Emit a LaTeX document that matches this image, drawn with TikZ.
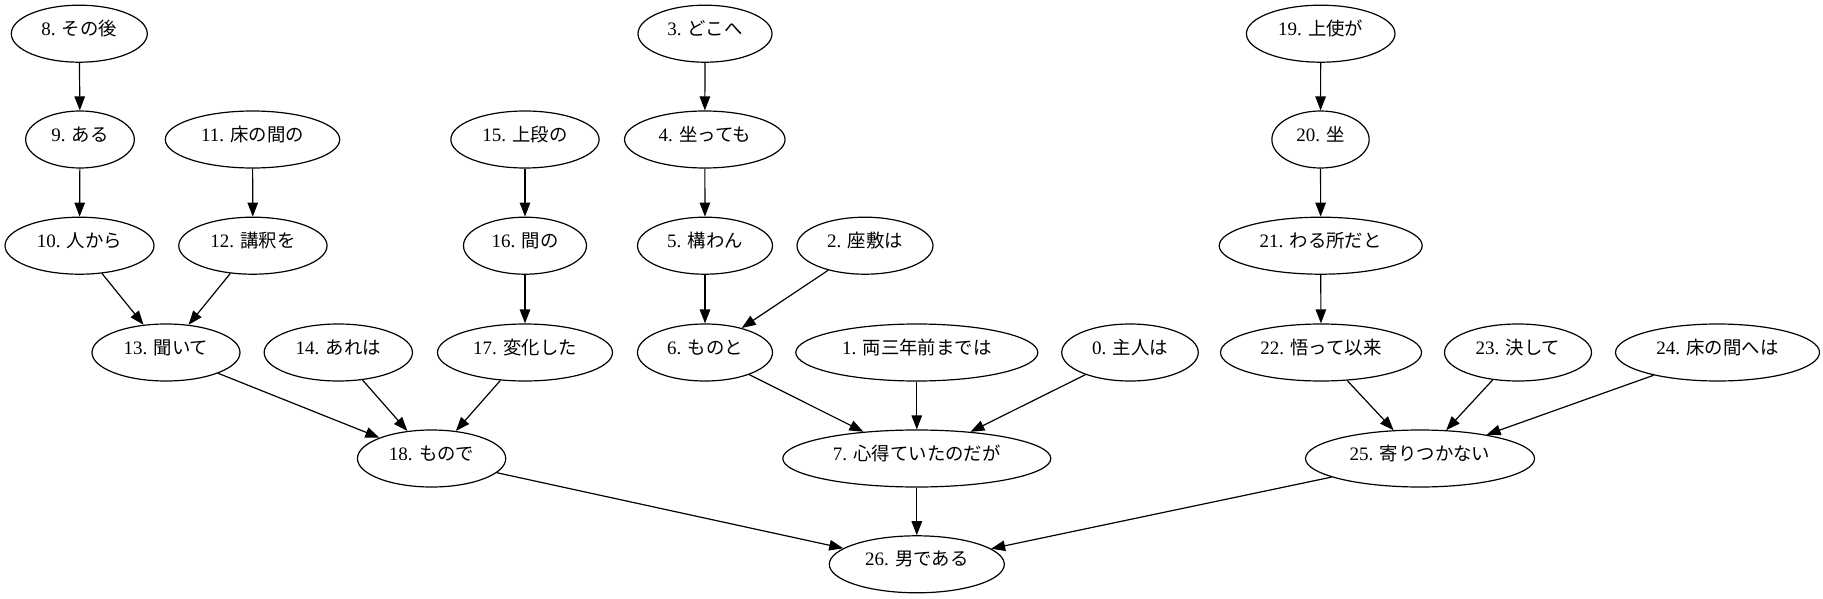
\documentclass[tikz,border=0pt]{standalone}
\usepackage{fontspec}
\setmainfont{Liberation Serif}
\newfontfamily\cjk{Noto Sans CJK JP}
\usetikzlibrary{shapes.geometric,arrows.meta}
\newcommand\J[1]{{\cjk\fontsize{18.4}{22}\selectfont #1}}
\tikzset{
  ell/.style={ellipse, draw, line width=1.2pt, minimum height=57pt, inner sep=0pt, minimum width=#1,
    font=\fontsize{19}{23}\selectfont},
  lbl/.style={yshift=5pt, inner sep=0pt, font=\fontsize{19}{23}\selectfont},
  edge/.style={line width=1.2pt, -{Triangle[length=14pt,width=10.5pt]}}
}
\begin{document}
\begin{tikzpicture}[x=1pt,y=-1pt]
\useasboundingbox (0,0) rectangle (1823,599);
\def\ra{33.7}\def\rb{139.5}\def\rc{245.7}\def\rd{352.5}\def\re{458.5}\def\rf{564.3}
% row 1
\node[ell=136, label={[lbl]center:8. \J{その後}}] (n8) at (79.3,\ra) {};
\node[ell=134, label={[lbl]center:3. \J{どこへ}}] (n3) at (705,\ra) {};
\node[ell=148.6, label={[lbl]center:19. \J{上使が}}] (n19) at (1320.7,\ra) {};
% row 2
\node[ell=108.7, label={[lbl]center:9. \J{ある}}] (n9) at (80,\rb) {};
\node[ell=174.4, label={[lbl]center:11. \J{床の間の}}] (n11) at (252.5,\rb) {};
\node[ell=148.3, label={[lbl]center:15. \J{上段の}}] (n15) at (525,\rb) {};
\node[ell=160.5, label={[lbl]center:4. \J{坐っても}}] (n4) at (704.8,\rb) {};
\node[ell=97.3, label={[lbl]center:20. \J{坐}}] (n20) at (1320.5,\rb) {};
% row 3
\node[ell=149, label={[lbl]center:10. \J{人から}}] (n10) at (79.5,\rc) {};
\node[ell=148.3, label={[lbl]center:12. \J{講釈を}}] (n12) at (252.9,\rc) {};
\node[ell=123, label={[lbl]center:16. \J{間の}}] (n16) at (525,\rc) {};
\node[ell=135, label={[lbl]center:5. \J{構わん}}] (n5) at (705,\rc) {};
\node[ell=136, label={[lbl]center:2. \J{座敷は}}] (n2) at (865,\rc) {};
\node[ell=203, label={[lbl]center:21. \J{わる所だと}}] (n21) at (1320.7,\rc) {};
% row 4
\node[ell=148, label={[lbl]center:13. \J{聞いて}}] (n13) at (166,\rd) {};
\node[ell=148.3, label={[lbl]center:14. \J{あれは}}] (n14) at (338.3,\rd) {};
\node[ell=175, label={[lbl]center:17. \J{変化した}}] (n17) at (525,\rd) {};
\node[ell=135, label={[lbl]center:6. \J{ものと}}] (n6) at (705,\rd) {};
\node[ell=242, label={[lbl]center:1. \J{両三年前までは}}] (n1) at (916.8,\rd) {};
\node[ell=136.5, label={[lbl]center:0. \J{主人は}}] (n0) at (1130,\rd) {};
\node[ell=201, label={[lbl]center:22. \J{悟って以来}}] (n22) at (1321,\rd) {};
\node[ell=147, label={[lbl]center:23. \J{決して}}] (n23) at (1518,\rd) {};
\node[ell=204, label={[lbl]center:24. \J{床の間へは}}] (n24) at (1717.5,\rd) {};
% row 5
\node[ell=148.3, label={[lbl]center:18. \J{もので}}] (n18) at (431.6,\re) {};
\node[ell=268, label={[lbl]center:7. \J{心得ていたのだが}}] (n7) at (916.8,\re) {};
\node[ell=229, label={[lbl]center:25. \J{寄りつかない}}] (n25) at (1420,\re) {};
% row 6
\node[ell=175, label={[lbl]center:26. \J{男である}}] (n26) at (916.8,\rf) {};
% edges
\draw[edge] (n8) -- (n9);
\draw[edge] (n9) -- (n10);
\draw[edge] (n10) -- (n13);
\draw[edge] (n11) -- (n12);
\draw[edge] (n12) -- (n13);
\draw[edge] (n13) -- (n18);
\draw[edge] (n14) -- (n18);
\draw[edge] (n15) -- (n16);
\draw[edge] (n16) -- (n17);
\draw[edge] (n17) -- (n18);
\draw[edge] (n18) -- (n26);
\draw[edge] (n3) -- (n4);
\draw[edge] (n4) -- (n5);
\draw[edge] (n5) -- (n6);
\draw[edge] (n2) -- (n6);
\draw[edge] (n6) -- (n7);
\draw[edge] (n1) -- (n7);
\draw[edge] (n0) -- (n7);
\draw[edge] (n7) -- (n26);
\draw[edge] (n19) -- (n20);
\draw[edge] (n20) -- (n21);
\draw[edge] (n21) -- (n22);
\draw[edge] (n22) -- (n25);
\draw[edge] (n23) -- (n25);
\draw[edge] (n24) -- (n25);
\draw[edge] (n25) -- (n26);
\end{tikzpicture}
\end{document}
